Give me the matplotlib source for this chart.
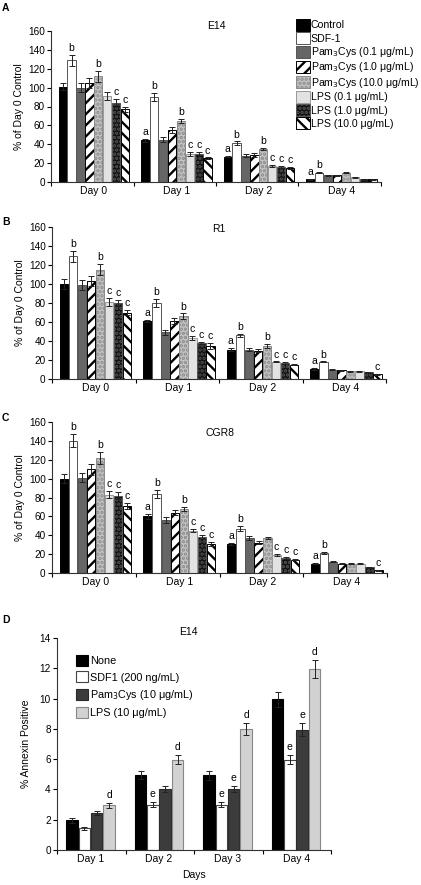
import numpy as np
import matplotlib
matplotlib.use('Agg')
import matplotlib.pyplot as plt

plt.rcParams['font.family'] = ['Liberation Sans', 'DejaVu Sans']
plt.rcParams['font.size'] = 7.5
plt.rcParams['hatch.linewidth'] = 1.7

days = ['Day 0', 'Day 1', 'Day 2', 'Day 4']
series = ['Control', 'SDF-1', 'Pam$_3$Cys (0.1 \u03bcg/mL)', 'Pam$_3$Cys (1.0 \u03bcg/mL)',
          'Pam$_3$Cys (10.0 \u03bcg/mL)', 'LPS (0.1 \u03bcg/mL)', 'LPS (1.0 \u03bcg/mL)',
          'LPS (10.0 \u03bcg/mL)']

# rows = days, cols = series
e14_vals = [[101, 129, 100, 105, 112, 91, 84, 77],
            [44, 90, 45, 55, 65, 30, 30, 25],
            [27, 41, 28, 29, 35, 17, 16, 15],
            [3, 10, 7, 7, 10, 5, 3, 3]]
e14_err = [[4, 6, 5, 5, 6, 4, 4, 3],
           [2, 4, 3, 3, 2, 2, 1.5, 1],
           [1, 2, 2, 2, 1.5, 1, 1, 1],
           [0.5, 0.5, 0.5, 0.5, 0.5, 0.5, 0.5, 0.5]]
e14_letters = [{1: 'b', 4: 'b', 6: 'c', 7: 'c'},
               {0: 'a', 1: 'b', 4: 'b', 5: 'c', 6: 'c', 7: 'c'},
               {0: 'a', 1: 'b', 4: 'b', 5: 'c', 6: 'c', 7: 'c'},
               {0: 'a', 1: 'b'}]

r1_vals = [[100, 129, 99, 103, 115, 81, 80, 70],
           [61, 80, 49, 61, 66, 43, 38, 35],
           [31, 46, 31, 30, 35, 18, 17, 15],
           [11, 18, 10, 9, 8, 8, 7, 5]]
r1_err = [[5, 6, 5, 5, 6, 4, 3, 3],
          [1.5, 4, 3, 3, 3, 2, 1, 3],
          [2, 1.5, 2, 1.5, 2, 0.5, 1, 0.5],
          [1, 0.5, 0.5, 0.5, 0.5, 0.5, 0.5, 0.5]]
r1_letters = [{1: 'b', 4: 'b', 5: 'c', 6: 'c', 7: 'c'},
              {0: 'a', 1: 'b', 4: 'b', 5: 'c', 6: 'c', 7: 'c'},
              {0: 'a', 1: 'b', 4: 'b', 5: 'c', 6: 'c', 7: 'c'},
              {0: 'a', 1: 'b', 7: 'c'}]

cgr8_vals = [[100, 140, 101, 110, 122, 83, 82, 71],
             [60, 84, 56, 64, 68, 45, 38, 31],
             [31, 47, 37, 32, 37, 19, 16, 14],
             [10, 21, 12, 10, 10, 10, 6, 3]]
cgr8_err = [[5, 7, 5, 6, 6, 4, 4, 3],
            [3, 4, 3, 3, 2, 2, 2, 2],
            [1, 3, 2, 1.5, 1.5, 1, 1, 0.5],
            [0.5, 1, 0.5, 0.5, 0.5, 0.5, 0.5, 0.5]]
cgr8_letters = [{1: 'b', 4: 'b', 5: 'c', 6: 'c', 7: 'c'},
                {0: 'a', 1: 'b', 4: 'b', 5: 'c', 6: 'c', 7: 'c'},
                {0: 'a', 1: 'b', 5: 'c', 6: 'c', 7: 'c'},
                {0: 'a', 1: 'b', 7: 'c'}]

d_days = ['Day 1', 'Day 2', 'Day 3', 'Day 4']
d_series = ['None', 'SDF1 (200 ng/mL)', 'Pam$_3$Cys (10 \u03bcg/mL)', 'LPS (10 \u03bcg/mL)']
d_vals = [[1.95, 1.45, 2.45, 2.95],
          [4.95, 3.0, 4.0, 5.95],
          [4.95, 3.0, 4.0, 8.0],
          [9.95, 5.95, 7.95, 11.95]]
d_err = [[0.15, 0.1, 0.15, 0.15],
         [0.25, 0.15, 0.2, 0.3],
         [0.3, 0.15, 0.2, 0.4],
         [0.5, 0.3, 0.45, 0.6]]
d_letters = [{3: 'd'}, {1: 'e', 3: 'd'}, {1: 'e', 2: 'e', 3: 'd'}, {1: 'e', 2: 'e', 3: 'd'}]

# (facecolor, edgecolor, hatch)
styles = [('black', 'black', None),
          ('white', '#555555', None),
          ('#666666', '#555555', None),
          ('white', 'black', '///'),
          ('#c4c4c4', '#8a8a8a', '....'),
          ('#e2e2e2', '#999999', None),
          ('#111111', '#555555', '....'),
          ('white', 'black', '\\\\\\')]
d_styles = [('black', 'black'), ('white', '#444444'), ('#3c3c3c', '#2a2a2a'), ('#d2d2d2', '#888888')]

W, H = 421, 885
fig = plt.figure(figsize=(W / 100, H / 100), dpi=100)


def px_axes(x0, x1, ytop, ybot):
    return fig.add_axes([x0 / W, 1 - ybot / H, (x1 - x0) / W, (ybot - ytop) / H])


def style_axes(ax):
    for s in ['top', 'right']:
        ax.spines[s].set_visible(False)
    for s in ['left', 'bottom']:
        ax.spines[s].set_linewidth(0.8)
        ax.spines[s].set_color('#333333')
    ax.tick_params(axis='y', direction='out', length=3, width=0.8, pad=1.5, labelsize=7.2)
    ax.tick_params(axis='x', which='major', length=0, pad=3, labelsize=7.5)
    ax.tick_params(axis='x', which='minor', direction='out', length=3, width=0.8)


def draw_panel(ax, vals, errs, letters, title, title_y):
    step = 0.108
    bars = []
    for k in range(8):
        x = np.arange(4) + 0.52 + (k - 3.5) * step
        y = [vals[g][k] for g in range(4)]
        e = [errs[g][k] for g in range(4)]
        fc, ec, hatch = styles[k]
        b = ax.bar(x, y, width=step * 0.93, color=fc, edgecolor=ec, hatch=hatch,
                   linewidth=0.7, zorder=2)
        ax.errorbar(x, y, yerr=e, fmt='none', ecolor='#222222', elinewidth=0.7,
                    capsize=2, capthick=0.7, zorder=3)
        bars.append(b[0])
        for g in range(4):
            if k in letters[g]:
                ax.text(x[g], y[g] + e[g] + 2, letters[g][k], ha='center', va='bottom',
                        fontsize=7.5)
    ax.set_xlim(0, 4)
    ax.set_ylim(0, 160)
    ax.set_yticks(np.arange(0, 161, 20))
    ax.set_xticks(np.arange(4) + 0.52)
    ax.set_xticklabels(days)
    ax.set_xticks(np.arange(5), minor=True)
    ax.set_ylabel('% of Day 0 Control', fontsize=7.5, labelpad=3)
    style_axes(ax)
    ax.text(0.5, title_y, title, transform=ax.transAxes, ha='center', va='center', fontsize=7.5)
    return bars


axA = px_axes(51, 381, 31, 182)
barsA = draw_panel(axA, e14_vals, e14_err, e14_letters, 'E14', 1.03)
axB = px_axes(52, 386, 227, 379)
draw_panel(axB, r1_vals, r1_err, r1_letters, 'R1', 0.99)
axC = px_axes(52, 387, 422, 573)
draw_panel(axC, cgr8_vals, cgr8_err, cgr8_letters, 'CGR8', 0.93)

fig.legend(barsA, series, loc='upper left', bbox_to_anchor=(296 / W, 1 - 19 / H),
           frameon=False, fontsize=7.6, handlelength=1.3, handleheight=1.35,
           handletextpad=0.1, labelspacing=0.12, borderpad=0, borderaxespad=0)

# panel D
axD = px_axes(57, 331, 638, 850)
dstep = 0.18
d_bars = []
for k in range(4):
    x = np.arange(4) + 0.49 + (k - 1.5) * dstep
    y = [d_vals[g][k] for g in range(4)]
    e = [d_err[g][k] for g in range(4)]
    fc, ec = d_styles[k]
    b = axD.bar(x, y, width=dstep * 0.93, color=fc, edgecolor=ec, linewidth=0.8, zorder=2)
    axD.errorbar(x, y, yerr=e, fmt='none', ecolor='#222222', elinewidth=0.7,
                 capsize=2, capthick=0.7, zorder=3)
    d_bars.append(b[0])
    for g in range(4):
        if k in d_letters[g]:
            axD.text(x[g], y[g] + e[g] + 0.2, d_letters[g][k], ha='center', va='bottom',
                     fontsize=7.5)
axD.set_xlim(0, 4)
axD.set_ylim(0, 14)
axD.set_yticks(np.arange(0, 15, 2))
axD.set_xticks(np.arange(4) + 0.49)
axD.set_xticklabels(d_days)
axD.set_xticks(np.arange(5), minor=True)
axD.set_ylabel('% Annexin Positive', fontsize=7.5, labelpad=6)
axD.set_xlabel('Days', fontsize=7.5, labelpad=4)
style_axes(axD)
fig.text(188 / W, 1 - 632 / H, 'E14', ha='center', va='center', fontsize=7.5)
fig.legend(d_bars, d_series, loc='upper left', bbox_to_anchor=(76 / W, 1 - 655 / H),
           frameon=False, fontsize=7.8, handlelength=1.1, handleheight=1.15,
           handletextpad=0.2, labelspacing=0.5, borderpad=0, borderaxespad=0)

for lab, y in [('A', 8), ('B', 222), ('C', 418), ('D', 620)]:
    fig.text(2 / W, 1 - y / H, lab, ha='left', va='center', fontsize=7.5, fontweight='bold')

fig.savefig('out.png', dpi=100)
